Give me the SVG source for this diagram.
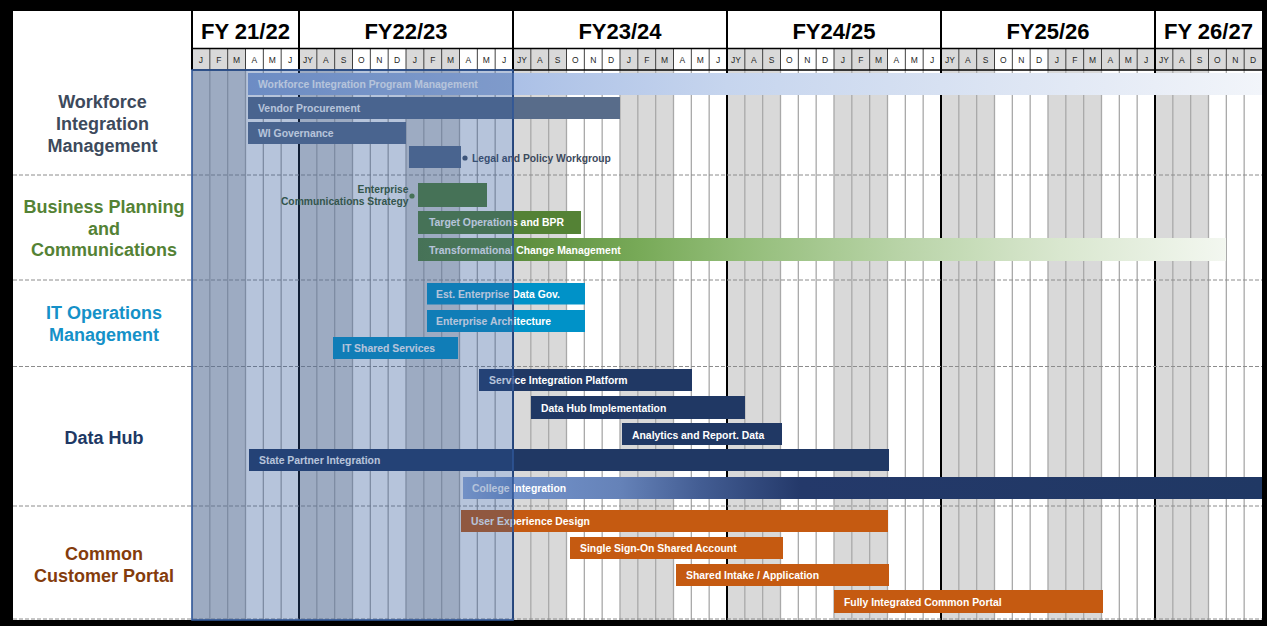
<svg xmlns="http://www.w3.org/2000/svg" width="1267" height="626" viewBox="0 0 1267 626">
<style>
.fy{font-family:"Liberation Sans",Arial,sans-serif;font-weight:bold;font-size:22px;fill:#000;text-anchor:middle}
.mo{font-family:"Liberation Sans",Arial,sans-serif;font-size:8.5px;fill:#262626;text-anchor:middle}
.cat{font-family:"Liberation Sans",Arial,sans-serif;font-weight:bold;font-size:18px;text-anchor:middle}
.bt{font-family:"Liberation Sans",Arial,sans-serif;font-weight:bold;font-size:10.4px;fill:#fff}
.lt{font-family:"Liberation Sans",Arial,sans-serif;font-weight:bold;font-size:10.3px}
.gq{fill:#d9d9d9}
.sep{stroke:#8c8c8c;stroke-width:1;stroke-dasharray:4 2;fill:none}
.wi{fill:#586c8a}
.bp{fill:#548235}
.it{fill:#0092c8}
.dh{fill:#203864}
.cp{fill:#c55a11}
</style>
<defs>
<linearGradient id="gW" gradientUnits="userSpaceOnUse" x1="248" y1="0" x2="1262" y2="0">
<stop offset="0" stop-color="#8faadc"/><stop offset="0.261" stop-color="#abc0e6"/><stop offset="0.472" stop-color="#c6d5ee"/><stop offset="0.683" stop-color="#d7e1f2"/><stop offset="0.894" stop-color="#e9eef7"/><stop offset="1" stop-color="#f2f5fa"/>
</linearGradient>
<linearGradient id="gT" gradientUnits="userSpaceOnUse" x1="418" y1="0" x2="1226" y2="0">
<stop offset="0" stop-color="#548235"/><stop offset="0.118" stop-color="#5b8c3c"/><stop offset="0.275" stop-color="#78aa58"/><stop offset="0.4" stop-color="#93bd79"/><stop offset="0.6" stop-color="#b9d4a8"/><stop offset="0.795" stop-color="#d9e7cf"/><stop offset="1" stop-color="#f3f7f0"/>
</linearGradient>
<linearGradient id="gC" gradientUnits="userSpaceOnUse" x1="463" y1="0" x2="1262" y2="0">
<stop offset="0" stop-color="#97b0de"/><stop offset="0.063" stop-color="#7393cb"/><stop offset="0.197" stop-color="#6582b8"/><stop offset="0.297" stop-color="#435d93"/><stop offset="0.422" stop-color="#24396a"/><stop offset="1" stop-color="#203864"/>
</linearGradient>
</defs>

<!-- frame -->
<rect x="0" y="0" width="1267" height="626" fill="#000"/>
<rect x="13" y="11" width="1249" height="609" fill="#fff"/>

<!-- body quarter shading -->
<g id="body-grid">
<rect class="gq" x="192" y="70" width="53.5" height="550"/>
<rect class="gq" x="299" y="70" width="53.5" height="550"/>
<rect class="gq" x="406" y="70" width="53.5" height="550"/>
<rect class="gq" x="513" y="70" width="53.5" height="550"/>
<rect class="gq" x="620" y="70" width="53.5" height="550"/>
<rect class="gq" x="727" y="70" width="53.5" height="550"/>
<rect class="gq" x="834" y="70" width="53.5" height="550"/>
<rect class="gq" x="941" y="70" width="53.5" height="550"/>
<rect class="gq" x="1048" y="70" width="53.5" height="550"/>
<rect class="gq" x="1155" y="70" width="53.5" height="550"/>
<path stroke="#a9a9a9" stroke-width="1.3" fill="none" d="M209.83 70V620M227.67 70V620M245.5 70V620M263.33 70V620M281.17 70V620M316.83 70V620M334.67 70V620M352.5 70V620M370.33 70V620M388.17 70V620M406 70V620M423.83 70V620M441.67 70V620M459.5 70V620M477.33 70V620M495.17 70V620M530.83 70V620M548.67 70V620M566.5 70V620M584.33 70V620M602.17 70V620M620 70V620M637.83 70V620M655.67 70V620M673.5 70V620M691.33 70V620M709.17 70V620M744.83 70V620M762.67 70V620M780.5 70V620M798.33 70V620M816.17 70V620M834 70V620M851.83 70V620M869.67 70V620M887.5 70V620M905.33 70V620M923.17 70V620M958.83 70V620M976.67 70V620M994.5 70V620M1012.33 70V620M1030.17 70V620M1048 70V620M1065.83 70V620M1083.67 70V620M1101.5 70V620M1119.33 70V620M1137.17 70V620M1172.83 70V620M1190.67 70V620M1208.5 70V620M1226.33 70V620M1244.17 70V620"/>
<path stroke="#000" stroke-width="2" fill="none" d="M299 11V620M513 11V620M727 11V620M941 11V620M1155 11V620M192 11V70"/>
</g>

<!-- header -->
<g id="header">
<rect class="gq" x="192" y="49" width="53.5" height="21"/>
<rect class="gq" x="299" y="49" width="53.5" height="21"/>
<rect class="gq" x="406" y="49" width="53.5" height="21"/>
<rect class="gq" x="513" y="49" width="53.5" height="21"/>
<rect class="gq" x="620" y="49" width="53.5" height="21"/>
<rect class="gq" x="727" y="49" width="53.5" height="21"/>
<rect class="gq" x="834" y="49" width="53.5" height="21"/>
<rect class="gq" x="941" y="49" width="53.5" height="21"/>
<rect class="gq" x="1048" y="49" width="107" height="21"/>
<rect class="gq" x="1155" y="49" width="107" height="21"/>
<path stroke="#404040" stroke-width="1" fill="none" d="M209.83 49V70M227.67 49V70M245.5 49V70M263.33 49V70M281.17 49V70M316.83 49V70M334.67 49V70M352.5 49V70M370.33 49V70M388.17 49V70M406 49V70M423.83 49V70M441.67 49V70M459.5 49V70M477.33 49V70M495.17 49V70M530.83 49V70M548.67 49V70M566.5 49V70M584.33 49V70M602.17 49V70M620 49V70M637.83 49V70M655.67 49V70M673.5 49V70M691.33 49V70M709.17 49V70M744.83 49V70M762.67 49V70M780.5 49V70M798.33 49V70M816.17 49V70M834 49V70M851.83 49V70M869.67 49V70M887.5 49V70M905.33 49V70M923.17 49V70M958.83 49V70M976.67 49V70M994.5 49V70M1012.33 49V70M1030.17 49V70M1048 49V70M1065.83 49V70M1083.67 49V70M1101.5 49V70M1119.33 49V70M1137.17 49V70M1172.83 49V70M1190.67 49V70M1208.5 49V70M1226.33 49V70M1244.17 49V70"/>
<path stroke="#000" stroke-width="1.5" fill="none" d="M192 48.5H1262M192 70H1262"/>
<path stroke="#000" stroke-width="2" fill="none" d="M299 11V70M513 11V70M727 11V70M941 11V70M1155 11V70M192 11V70"/>
<text class="fy" x="245.5" y="39">FY 21/22</text>
<text class="fy" x="406" y="39">FY22/23</text>
<text class="fy" x="620" y="39">FY23/24</text>
<text class="fy" x="834" y="39">FY24/25</text>
<text class="fy" x="1048" y="39">FY25/26</text>
<text class="fy" x="1208.5" y="39">FY 26/27</text>
<text class="mo" x="200.92" y="63">J</text><text class="mo" x="218.75" y="63">F</text><text class="mo" x="236.58" y="63">M</text><text class="mo" x="254.42" y="63">A</text><text class="mo" x="272.25" y="63">M</text><text class="mo" x="290.08" y="63">J</text>
<text class="mo" x="307.92" y="63">JY</text><text class="mo" x="325.75" y="63">A</text><text class="mo" x="343.58" y="63">S</text><text class="mo" x="361.42" y="63">O</text><text class="mo" x="379.25" y="63">N</text><text class="mo" x="397.08" y="63">D</text><text class="mo" x="414.92" y="63">J</text><text class="mo" x="432.75" y="63">F</text><text class="mo" x="450.58" y="63">M</text><text class="mo" x="468.42" y="63">A</text><text class="mo" x="486.25" y="63">M</text><text class="mo" x="504.08" y="63">J</text>
<text class="mo" x="521.92" y="63">JY</text><text class="mo" x="539.75" y="63">A</text><text class="mo" x="557.58" y="63">S</text><text class="mo" x="575.42" y="63">O</text><text class="mo" x="593.25" y="63">N</text><text class="mo" x="611.08" y="63">D</text><text class="mo" x="628.92" y="63">J</text><text class="mo" x="646.75" y="63">F</text><text class="mo" x="664.58" y="63">M</text><text class="mo" x="682.42" y="63">A</text><text class="mo" x="700.25" y="63">M</text><text class="mo" x="718.08" y="63">J</text>
<text class="mo" x="735.92" y="63">JY</text><text class="mo" x="753.75" y="63">A</text><text class="mo" x="771.58" y="63">S</text><text class="mo" x="789.42" y="63">O</text><text class="mo" x="807.25" y="63">N</text><text class="mo" x="825.08" y="63">D</text><text class="mo" x="842.92" y="63">J</text><text class="mo" x="860.75" y="63">F</text><text class="mo" x="878.58" y="63">M</text><text class="mo" x="896.42" y="63">A</text><text class="mo" x="914.25" y="63">M</text><text class="mo" x="932.08" y="63">J</text>
<text class="mo" x="949.92" y="63">JY</text><text class="mo" x="967.75" y="63">A</text><text class="mo" x="985.58" y="63">S</text><text class="mo" x="1003.42" y="63">O</text><text class="mo" x="1021.25" y="63">N</text><text class="mo" x="1039.08" y="63">D</text><text class="mo" x="1056.92" y="63">J</text><text class="mo" x="1074.75" y="63">F</text><text class="mo" x="1092.58" y="63">M</text><text class="mo" x="1110.42" y="63">A</text><text class="mo" x="1128.25" y="63">M</text><text class="mo" x="1146.08" y="63">J</text>
<text class="mo" x="1163.92" y="63">JY</text><text class="mo" x="1181.75" y="63">A</text><text class="mo" x="1199.58" y="63">S</text><text class="mo" x="1217.42" y="63">O</text><text class="mo" x="1235.25" y="63">N</text><text class="mo" x="1253.08" y="63">D</text>
</g>

<!-- section separators -->
<path class="sep" d="M13 175H1262M13 280H1262M13 366.5H1262M13 506H1262M13 619H1262"/>

<!-- category labels -->
<g id="cat-workforce"><text class="cat" fill="#3d4a5c" x="102.5" y="108">Workforce</text><text class="cat" fill="#3d4a5c" x="102.5" y="130">Integration</text><text class="cat" fill="#3d4a5c" x="102.5" y="152">Management</text></g>
<g id="cat-business"><text class="cat" fill="#548235" x="104" y="213">Business Planning</text><text class="cat" fill="#548235" x="104" y="234.5">and</text><text class="cat" fill="#548235" x="104" y="256">Communications</text></g>
<g id="cat-itops"><text class="cat" fill="#1591c8" x="104" y="319">IT Operations</text><text class="cat" fill="#1591c8" x="104" y="341">Management</text></g>
<g id="cat-datahub"><text class="cat" fill="#203864" x="104" y="444">Data Hub</text></g>
<g id="cat-portal"><text class="cat" fill="#843c0c" x="104" y="560">Common</text><text class="cat" fill="#843c0c" x="104" y="582">Customer Portal</text></g>

<!-- bars -->
<g id="bar-wipm"><rect x="248" y="73" width="1014" height="22" fill="url(#gW)"/><text class="bt" x="258" y="88">Workforce Integration Program Management</text></g>
<g id="bar-vendor"><rect class="wi" x="248" y="97" width="372" height="22"/><text class="bt" x="258" y="112">Vendor Procurement</text></g>
<g id="bar-wigov"><rect class="wi" x="248" y="122" width="158" height="22"/><text class="bt" x="258" y="137">WI Governance</text></g>
<g id="bar-legal"><rect class="wi" x="409" y="146" width="52" height="22"/><text class="lt" fill="#3d4a5c" x="472" y="162">Legal and Policy Workgroup</text></g>
<g id="bar-ecs"><rect class="bp" x="418" y="183" width="69" height="24"/><text class="lt" fill="#375623" text-anchor="end" x="408.5" y="193">Enterprise</text><text class="lt" fill="#375623" text-anchor="end" x="408.5" y="205">Communications Strategy</text></g>
<g id="bar-target"><rect class="bp" x="418" y="211" width="163" height="23"/><text class="bt" x="429" y="226">Target Operations and BPR</text></g>
<g id="bar-tcm"><rect x="418" y="238" width="808" height="23" fill="url(#gT)"/><text class="bt" x="429" y="254">Transformational Change Management</text></g>
<g id="bar-edg"><rect class="it" x="427" y="283" width="158" height="21.5"/><text class="bt" x="436" y="297.5">Est. Enterprise Data Gov.</text></g>
<g id="bar-ea"><rect class="it" x="427" y="310" width="158" height="22"/><text class="bt" x="436" y="325">Enterprise Architecture</text></g>
<g id="bar-itss"><rect class="it" x="333" y="337" width="125" height="22"/><text class="bt" x="342" y="352">IT Shared Services</text></g>
<g id="bar-sip"><rect class="dh" x="479" y="369" width="213" height="22"/><text class="bt" x="489" y="384">Service Integration Platform</text></g>
<g id="bar-dhi"><rect class="dh" x="531" y="396" width="214" height="23"/><text class="bt" x="541" y="412">Data Hub Implementation</text></g>
<g id="bar-ard"><rect class="dh" x="622" y="423" width="160" height="22"/><text class="bt" x="632" y="439">Analytics and Report. Data</text></g>
<g id="bar-spi"><rect class="dh" x="249" y="449" width="640" height="22"/><text class="bt" x="259" y="464">State Partner Integration</text></g>
<g id="bar-college"><rect x="463" y="477" width="799" height="22" fill="url(#gC)"/><text class="bt" x="472" y="491.5">College Integration</text></g>
<g id="bar-uxd"><rect class="cp" x="461" y="510" width="427" height="22"/><text class="bt" x="471" y="524.5">User Experience Design</text></g>
<g id="bar-sso"><rect class="cp" x="570" y="537" width="213" height="22"/><text class="bt" x="580" y="552">Single Sign-On Shared Account</text></g>
<g id="bar-intake"><rect class="cp" x="676" y="564" width="213" height="22"/><text class="bt" x="686" y="579">Shared Intake / Application</text></g>
<g id="bar-portal"><rect class="cp" x="834" y="590" width="269" height="23"/><text class="bt" x="844" y="605.5">Fully Integrated Common Portal</text></g>

<!-- leader dots -->
<g id="connectors">
<circle cx="465" cy="158" r="2.6" fill="#44546a"/>
<circle cx="412" cy="196" r="2.6" fill="#548235"/>
</g>

<!-- current-period overlay -->
<rect id="overlay" x="192" y="70" width="321" height="550" fill="#2f5597" fill-opacity="0.35" stroke="#2f5597" stroke-width="1.6"/>
</svg>
